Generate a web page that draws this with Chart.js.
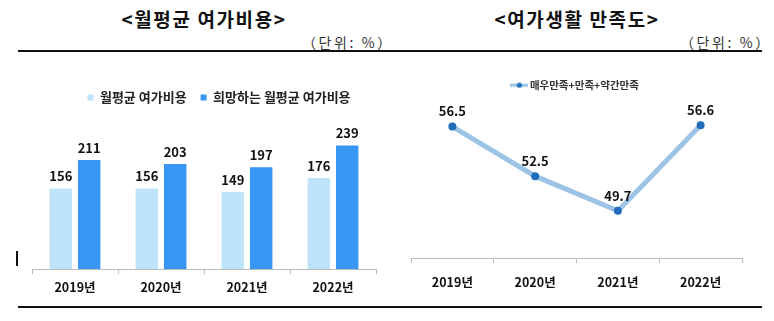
<!DOCTYPE html>
<html><head><meta charset="utf-8">
<script src="https://cdn.jsdelivr.net/npm/chart.js@4/dist/chart.umd.min.js"></script>
<style>
html,body{margin:0;padding:0;background:#fff;}
#wrap{position:relative;width:774px;height:321px;overflow:hidden;font-family:"Noto Sans CJK KR","Noto Sans",sans-serif;}
.title{position:absolute;top:5px;font-size:19px;letter-spacing:1.6px;font-weight:bold;color:#111;white-space:nowrap;transform:translateX(-50%);}
.unit{position:absolute;top:32px;font-size:14px;letter-spacing:2.6px;color:#333;white-space:nowrap;}
.hr{position:absolute;left:18px;width:744px;height:1.5px;background:#111;}
.mark{position:absolute;left:16px;top:251px;width:2px;height:15px;background:#111;}
canvas{position:absolute;}
</style></head><body>
<div id="wrap">
  <div class="title" style="left:204px">&lt;월평균 여가비용&gt;</div>
  <div class="title" style="left:577px">&lt;여가생활 만족도&gt;</div>
  <div class="unit" style="left:302px">（단위: %）</div>
  <div class="unit" style="left:680px">（단위: %）</div>
  <div class="hr" style="top:50px"></div>
  <div class="hr" style="top:306px"></div>
  <div class="mark"></div>
  <div style="position:absolute;left:0;top:60px;width:410px;height:241px"><canvas id="c1"></canvas></div>
  <div style="position:absolute;left:390px;top:60px;width:384px;height:242px"><canvas id="c2"></canvas></div>
</div>
<script>
const years = ["2019년", "2020년", "2021년", "2022년"];
const avgCost = [156, 156, 149, 176];
const wishCost = [211, 203, 197, 239];
const satisfaction = [56.5, 52.5, 49.7, 56.6];
const costLabels = ["월평균 여가비용", "희망하는 월평균 여가비용"];
const satLabel = "매우만족+만족+약간만족";

const FONT = '"Noto Sans CJK KR","Noto Sans",sans-serif';

const valueLabels = {
  id: 'valueLabels',
  afterDatasetsDraw(chart, args, opts) {
    const ctx = chart.ctx;
    ctx.save();
    ctx.font = 'bold 13px ' + FONT;
    ctx.fillStyle = '#111';
    ctx.textAlign = 'center';
    ctx.textBaseline = 'middle';
    chart.data.datasets.forEach((ds, i) => {
      const meta = chart.getDatasetMeta(i);
      meta.data.forEach((el, j) => {
        const v = ds.data[j];
        const txt = opts.decimals ? v.toFixed(1) : String(v);
        ctx.fillText(txt, el.x, el.y - opts.offset);
      });
    });
    ctx.restore();
  }
};

new Chart(document.getElementById('c1'), {
  type: 'bar',
  data: {
    labels: years,
    datasets: [
      { label: costLabels[0], data: avgCost, backgroundColor: '#bde4fa', barPercentage: 0.79, categoryPercentage: 0.66 },
      { label: costLabels[1], data: wishCost, backgroundColor: '#3896f4', barPercentage: 0.79, categoryPercentage: 0.66 }
    ]
  },
  options: {
    responsive: true, maintainAspectRatio: false, animation: false,
    layout: { padding: { top: 17, left: 32, right: 4, bottom: 0 } },
    plugins: {
      legend: {
        display: true, position: 'top',
        labels: { boxWidth: 6, boxHeight: 6, padding: 14, color: '#222',
          font: { family: FONT, size: 13, weight: 'bold' } }
      },
      tooltip: { enabled: false },
      valueLabels: { offset: 12, decimals: false }
    },
    scales: {
      x: {
        grid: { display: true, drawOnChartArea: false, drawTicks: true, tickLength: 5, color: '#bbb', offset: true },
        border: { display: true, color: '#bbb' },
        ticks: { padding: 6, color: '#111', font: { family: FONT, size: 12.5, weight: 'bold' } }
      },
      y: { display: true, position: 'right', min: 0, max: 300,
        grid: { display: false }, border: { display: false }, ticks: { display: false },
        afterFit(scale) { scale.width = 30; } }
    }
  },
  plugins: [valueLabels]
});

// legend marker: line with a dot
const mk = document.createElement('canvas');
mk.width = 18; mk.height = 6;
(function(){
  const c = mk.getContext('2d');
  c.strokeStyle = '#9dc3e6'; c.lineWidth = 3;
  c.beginPath(); c.moveTo(0, 3); c.lineTo(18, 3); c.stroke();
  c.fillStyle = '#1f6dbb';
  c.beginPath(); c.arc(9, 3, 2.6, 0, Math.PI * 2); c.fill();
})();

new Chart(document.getElementById('c2'), {
  type: 'line',
  data: {
    labels: years,
    datasets: [
      { label: satLabel, data: satisfaction, borderColor: '#9dc3e6', borderWidth: 5,
        pointRadius: 4, pointBackgroundColor: '#1f6dbb', pointBorderWidth: 0,
        pointStyle: 'circle', tension: 0, fill: false, clip: false }
    ]
  },
  options: {
    responsive: true, maintainAspectRatio: false, animation: false,
    layout: { padding: { top: 12, left: 21, right: 32, bottom: 0 } },
    plugins: {
      legend: {
        display: true, position: 'top',
        labels: { usePointStyle: true, pointStyle: mk, padding: 8, color: '#333',
          font: { family: FONT, size: 10.5, weight: 'bold' },
          generateLabels(chart) {
            return chart.data.datasets.map((d, i) => ({ text: d.label, pointStyle: mk, datasetIndex: i, fontColor: '#333', lineWidth: 0 }));
          } }
      },
      tooltip: { enabled: false },
      valueLabels: { offset: 15, decimals: true }
    },
    scales: {
      x: {
        offset: true,
        grid: { display: true, drawOnChartArea: false, drawTicks: true, tickLength: 5, color: '#bbb', offset: true },
        border: { display: true, color: '#bbb' },
        ticks: { padding: 12, color: '#111', font: { family: FONT, size: 12.5, weight: 'bold' } }
      },
      y: { display: false, min: 45.9, max: 58.6 }
    }
  },
  plugins: [valueLabels]
});
</script>
</body></html>
